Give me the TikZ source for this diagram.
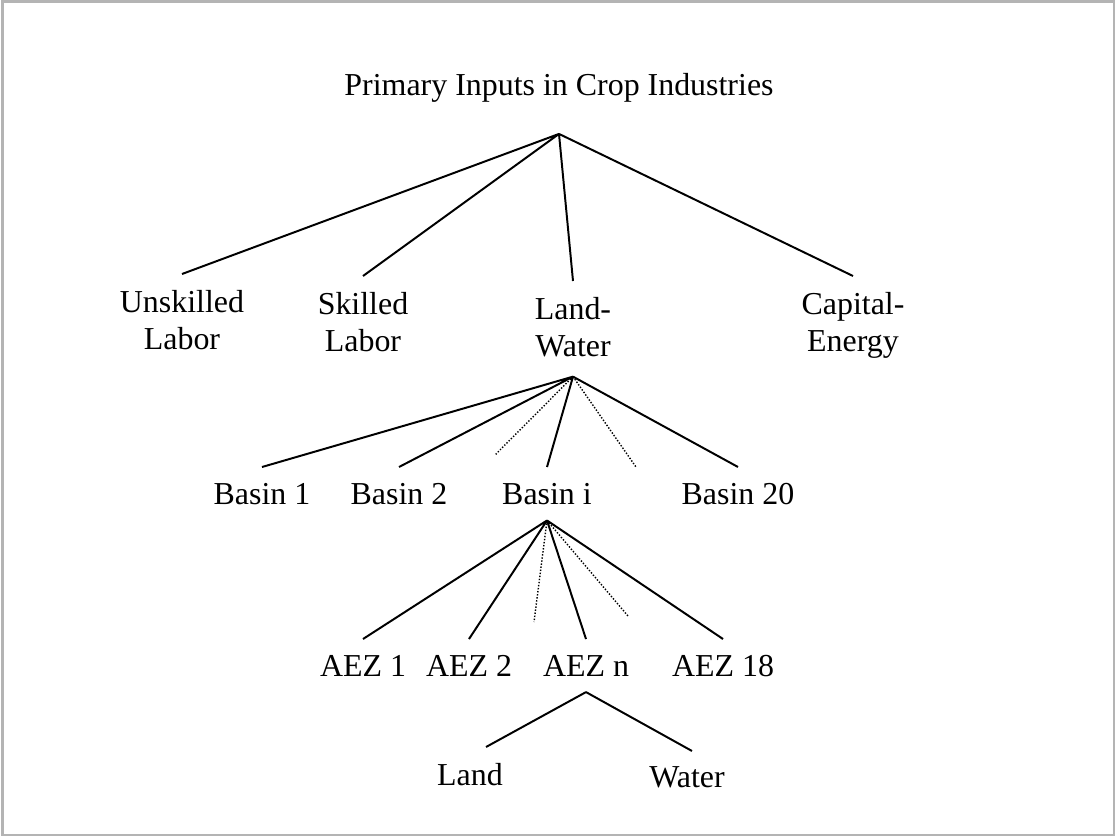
\documentclass[tikz,border=0pt]{standalone}
\usepackage{fontspec}
\setmainfont{Liberation Serif}
\usepackage{tikz}
\definecolor{framegray}{RGB}{180,180,180}

\begin{document}
\begin{tikzpicture}[x=0.025cm, y=-0.025cm,
	lbl/.style={font=\fontsize{22.7}{26.3}\selectfont, align=center,
		inner xsep=0pt, inner ysep=0.4cm, outer sep=0pt, anchor=north},
	heading/.style={font=\fontsize{22.7}{26.3}\selectfont,
		inner xsep=0pt, inner ysep=0.8cm, outer sep=0pt, anchor=base},
	branch/.style={line width=1.4pt},
	gap/.style={line width=1pt, dash pattern=on 1pt off 1.2pt}]

\useasboundingbox (0, 0) rectangle (1115, 836);
\draw[framegray, line width=0.065cm] (2.3, 1.4) rectangle (1113.8, 834.8);

\node[heading] (crop) at (559, 95) {Primary Inputs in Crop Industries};

\node[lbl] (unskilled) at (182, 274) {Unskilled\\Labor};
\node[lbl] (skilled) at (363, 276) {Skilled\\Labor};
\node[lbl] (landwater) at (573, 281) {Land-\\Water};
\node[lbl] (capital) at (853, 276) {Capital-\\Energy};

\node[lbl] (basin1) at (262, 467) {Basin 1};
\node[lbl] (basin2) at (399, 467) {Basin 2};
\node[lbl] (basini) at (547, 467) {Basin i};
\node[lbl] (basin20) at (738, 467) {Basin 20};

\node[lbl] (aez1) at (363, 639) {AEZ 1};
\node[lbl] (aez2) at (469, 639) {AEZ 2};
\node[lbl] (aezn) at (586, 639) {AEZ n};
\node[lbl] (aez18) at (723, 639) {AEZ 18};

\node[lbl] (land) at (470, 747) {Land};
\node[lbl] (water) at (687, 751) {Water};

% ends of the dotted "and so on" branches
\coordinate (lwmore1) at (495, 455);
\coordinate (lwmore2) at (636, 467);
\coordinate (bimore1) at (534, 622);
\coordinate (bimore2) at (628, 616);

\draw[branch] (crop.south) -- (unskilled.north)
	(crop.south) -- (skilled.north)
	(crop.south) -- (landwater.north)
	(crop.south) -- (capital.north);

\draw[branch] ([yshift=-0.1cm]landwater.south) -- (basin1.north)
	([yshift=-0.1cm]landwater.south) -- (basin2.north)
	([yshift=-0.1cm]landwater.south) -- (basini.north)
	([yshift=-0.1cm]landwater.south) -- (basin20.north);
\draw[gap] ([yshift=-0.1cm]landwater.south) -- (lwmore1)
	([yshift=-0.1cm]landwater.south) -- (lwmore2);

\draw[branch] (basini.south) -- (aez1.north)
	(basini.south) -- (aez2.north)
	(basini.south) -- (aezn.north)
	(basini.south) -- (aez18.north);
\draw[gap] (basini.south) -- (bimore1)
	(basini.south) -- (bimore2);

\draw[branch] (aezn.south) -- ([xshift=0.4cm]land.north)
	(aezn.south) -- ([xshift=0.125cm]water.north);

\end{tikzpicture}
\end{document}
